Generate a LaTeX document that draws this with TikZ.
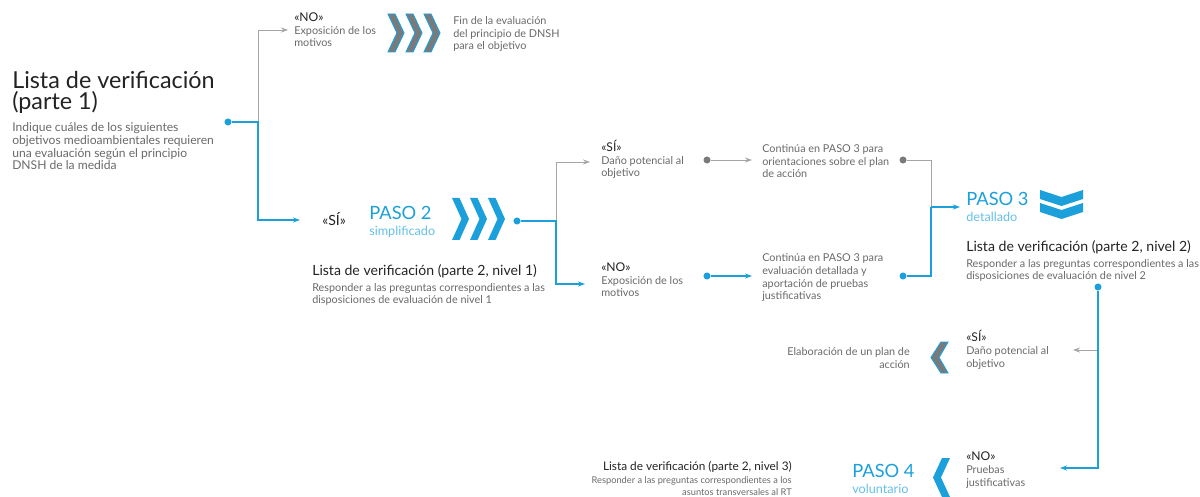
\documentclass[tikz,border=0pt]{standalone}
\usepackage{fontspec}
\setmainfont{Lato}
\usetikzlibrary{arrows.meta}

\definecolor{pasoblue}{RGB}{27,160,219}
\definecolor{lightblue}{RGB}{100,192,232}
\definecolor{linegrey}{RGB}{165,165,165}
\definecolor{textgrey}{RGB}{105,105,105}
\definecolor{chevgrey}{RGB}{122,122,122}
\definecolor{darktext}{RGB}{35,35,35}

% base anchor of a multi-line node = baseline of its last line
\tikzset{
  titletext/.style={font=\fontsize{16.6}{15.6}\selectfont, text=darktext, align=left, anchor=base west, inner sep=0pt},
  subtext/.style={font=\fontsize{8.6}{9.2}\selectfont, text=textgrey, align=left, anchor=base west, inner sep=0pt},
  smalltext/.style={font=\fontsize{7.7}{9.2}\selectfont, text=textgrey, align=left, anchor=base west, inner sep=0pt},
  headtext/.style={font=\fontsize{10}{11}\selectfont, text=darktext, anchor=base west, inner sep=0pt},
  pasotext/.style={font=\fontsize{13}{14}\selectfont, text=pasoblue, anchor=base west, inner sep=0pt},
  pasosub/.style={font=\fontsize{9}{10}\selectfont, text=lightblue, anchor=base west, inner sep=0pt},
  bdot/.style={circle, fill=pasoblue, inner sep=0pt, minimum size=5pt},
  gdot/.style={circle, fill=chevgrey, inner sep=0pt, minimum size=5pt},
  bline/.style={draw=pasoblue, line width=1.1pt},
  gline/.style={draw=linegrey, line width=0.6pt},
}
\newcommand{\answ}[1]{{\color{darktext}\fontsize{8.6}{9.2}\selectfont #1}}

\begin{document}
\begin{tikzpicture}[x=0.025cm, y=-0.025cm, >={Stealth[length=5pt,width=3.6pt]}]
\useasboundingbox (0,0) rectangle (1200,497);

% Lista de verificacion (parte 1)
\node[titletext] (lista1) at (12,110) {Lista de verificación\\(parte 1)};
\node[subtext] (lista1txt) at (12,170) {Indique cuáles de los siguientes\\objetivos medioambientales requieren\\una evaluación según el principio\\DNSH de la medida};

% rama NO arriba
\node[smalltext] (no1) at (294,47) {\answ{«NO»}\\Exposición de los\\motivos};
\node[smalltext] (fin) at (453,50) {Fin de la evaluación\\del principio de DNSH\\para el objetivo};

% PASO 2
\node[font=\fontsize{10}{11}\selectfont, text=darktext, anchor=base west, inner sep=0pt] (si2) at (322,226) {«SÍ»};
\node[pasotext] (paso2) at (369,220) {PASO 2};
\node[pasosub] (simpl) at (369,236) {simplificado};
\node[headtext] (lista21) at (312,276) {Lista de verificación (parte 2, nivel 1)};
\node[smalltext] (lista21txt) at (312,304) {Responder a las preguntas correspondientes a las\\disposiciones de evaluación de nivel 1};

% resultados de PASO 2
\node[smalltext] (si3) at (601,177) {\answ{«SÍ»}\\Daño potencial al\\objetivo};
\node[smalltext] (cont1) at (762,178) {Continúa en PASO 3 para\\orientaciones sobre el plan\\de acción};
\node[smalltext] (no3) at (601,297) {\answ{«NO»}\\Exposición de los\\motivos};
\node[smalltext] (cont2) at (762,300) {Continúa en PASO 3 para\\evaluación detallada y\\aportación de pruebas\\justificativas};

% PASO 3
\node[pasotext] (paso3) at (966,206) {PASO 3};
\node[pasosub] (detal) at (966,222) {detallado};
\node[headtext] (lista22) at (966,252) {Lista de verificación (parte 2, nivel 2)};
\node[smalltext] (lista22txt) at (966,280) {Responder a las preguntas correspondientes a las\\disposiciones de evaluación de nivel 2};

% resultados de PASO 3
\node[smalltext] (si4) at (966,367) {\answ{«SÍ»}\\Daño potencial al\\objetivo};
\node[smalltext, anchor=base east, align=right] (plan) at (910,368) {Elaboración de un plan de\\acción};
\node[smalltext] (no4) at (966,486) {\answ{«NO»}\\Pruebas\\justificativas};

% PASO 4
\node[pasotext] (paso4) at (852,477) {PASO 4};
\node[pasosub] (volun) at (852,493) {voluntario};
\node[headtext, anchor=base east, font=\fontsize{8.4}{10}\selectfont] (lista23) at (792,470) {Lista de verificación (parte 2, nivel 3)};
\node[smalltext, anchor=base east, align=right, font=\fontsize{6.6}{8.6}\selectfont] (lista23txt) at (792,495.5) {Responder a las preguntas correspondientes a los\\asuntos transversales al RT};

% chevrons
\foreach \x in {388,406,424}
  \draw[pasoblue, line width=0.7pt, fill=chevgrey] (\x,14) -- (\x+7,14) -- (\x+16,33) -- (\x+7,52) -- (\x,52) -- (\x+9,33) -- cycle;
\foreach \x in {452,470,488}
  \fill[pasoblue] (\x,198) -- (\x+7.5,198) -- (\x+17,219) -- (\x+7.5,240) -- (\x,240) -- (\x+9.5,219) -- cycle;
\foreach \y in {190,203}
  \fill[pasoblue] (1040,\y) -- (1061.5,\y+7) -- (1083,\y) -- (1083,\y+9) -- (1061.5,\y+16) -- (1040,\y+9) -- cycle;
\draw[pasoblue, line width=0.7pt, fill=chevgrey] (948,342) -- (941,342) -- (931,357.5) -- (941,373) -- (948,373) -- (939,357.5) -- cycle;
\fill[pasoblue] (950,458) -- (942,458) -- (933,477.5) -- (942,497) -- (950,497) -- (941,477.5) -- cycle;

% dots and bends
\node[bdot] (d1) at (228,122) {};
\coordinate (j1) at (258,122);
\coordinate (a1) at (288,30);
\coordinate (a2) at (300,220);
\node[bdot] (d2) at (517,221) {};
\coordinate (j2) at (556,221);
\coordinate (a3) at (590,162);
\coordinate (a4) at (585,284);
\node[gdot] (d3) at (707,160) {};
\coordinate (a5) at (752,160);
\node[bdot] (d4) at (707,276) {};
\coordinate (a6) at (752,276);
\node[gdot] (d5) at (903,160) {};
\node[bdot] (d6) at (903,276) {};
\coordinate (j3) at (931,207);
\coordinate (a7) at (960,207);
\node[bdot] (d7) at (1098,287) {};
\coordinate (j4) at (1098,350);
\coordinate (a8) at (1073,350);
\coordinate (a9) at (1060,468);

% connectors
\draw[gline, ->] (j1) |- (a1);
\draw[bline, ->] (d1) -- (j1) |- (a2);
\draw[gline, ->] (j2) |- (a3);
\draw[bline, ->] (d2) -- (j2) |- (a4);
\draw[gline, ->] (d3) -- (a5);
\draw[bline, ->] (d4) -- (a6);
\draw[gline] (d5) -| (j3);
\draw[bline] (d6) -| (j3);
\draw[bline, ->] (j3) -- (a7);
\draw[gline, ->] (j4) -- (a8);
\draw[bline, ->] (d7) |- (a9);

\end{tikzpicture}
\end{document}
